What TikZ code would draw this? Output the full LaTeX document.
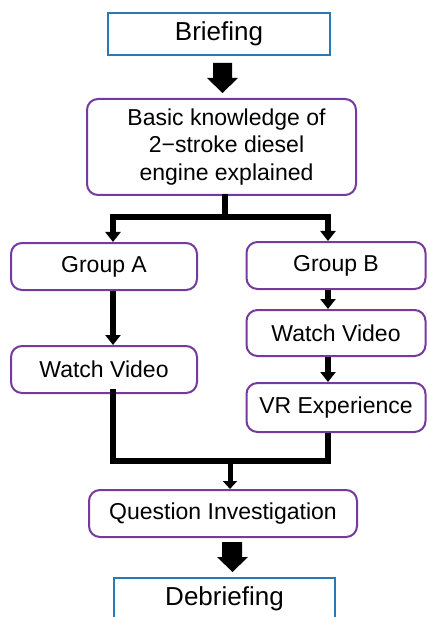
\documentclass[tikz,border=0pt]{standalone}
\usepackage{fontspec}
\setmainfont{Liberation Sans}
\usetikzlibrary{arrows.meta}
\definecolor{boxblue}{RGB}{40,122,182}
\definecolor{boxpurple}{RGB}{116,58,160}
\tikzset{
  bluebox/.style={draw=boxblue, line width=2pt, fill=white, inner sep=0pt, font=\fontsize{26}{30}\selectfont},
  purplebox/.style={draw=boxpurple, line width=2pt, rounded corners=11pt, fill=white, inner sep=0pt, font=\fontsize{23}{27.5}\selectfont, align=center},
  thickline/.style={line width=6.5pt, black, line join=miter},
  thickarrow/.style={line width=6pt, black, -{Triangle[width=15pt,length=10pt]}},
  bigarrow/.style={fill=black, draw=none}
}
\begin{document}
\begin{tikzpicture}[x=1pt,y=-1pt]
\useasboundingbox (0,0) rectangle (427,617);
% nodes
\node[bluebox, minimum width=222pt, minimum height=42pt] (brief) at (219,34) {Briefing};
\node[purplebox, minimum width=269pt, minimum height=96pt] (basic) at (221.5,147) {\hspace*{10pt}Basic knowledge of\\\hspace*{10pt}2\char"2212stroke diesel\\\hspace*{10pt}engine explained};
\node[purplebox, minimum width=186pt, minimum height=47pt] (ga) at (104,266.5) {Group A};
\node[purplebox, minimum width=179pt, minimum height=47pt] (gb) at (336,265.5) {Group B};
\node[purplebox, minimum width=186pt, minimum height=47pt] (wa) at (104,369.5) {Watch Video};
\node[purplebox, minimum width=179pt, minimum height=46pt] (wb) at (336,333) {Watch Video};
\node[purplebox, minimum width=179pt, minimum height=49pt] (vr) at (336,407.5) {VR Experience};
\node[purplebox, minimum width=268pt, minimum height=47pt] (qi) at (223,513.5) {Question Investigation};
\node[bluebox, minimum width=221pt, minimum height=42pt, anchor=north] (debrief) at (224.5,577) {Debriefing};
% big arrows
\path[bigarrow] (213,63) -- (232,63) -- (232,78) -- (238,78) -- (222.5,93) -- (207,78) -- (213,78) -- cycle;
\path[bigarrow] (222,542) -- (242,542) -- (242,557) -- (248,557) -- (232.5,572) -- (217,557) -- (222,557) -- cycle;
% split connectors
\coordinate (s0) at (225,194);
\coordinate (sj) at (225,217);
\coordinate (sl) at (113,217);
\coordinate (sr) at (328,217);
\draw[thickline] (s0) -- (sj);
\draw[thickline] ([xshift=-3.25pt]sl) -- ([xshift=3.25pt]sr);
\draw[thickarrow] ([yshift=-3pt]sl) -- (sl |- ga.north);
\draw[thickarrow] ([yshift=-3pt]sr) -- (sr |- gb.north);
% group chains
\draw[thickarrow] (sl |- ga.south) -- (sl |- wa.north);
\draw[thickarrow] (sr |- gb.south) -- (sr |- wb.north);
\draw[thickarrow] (sr |- wb.south) -- (sr |- vr.north);
% merge
\coordinate (ml) at (113,461);
\coordinate (mr) at (328,461);
\coordinate (mj) at (230,461);
\draw[thickline] ([yshift=5pt]sl |- wa.south) -- (ml) -- (mr) -- (sr |- vr.south);
\draw[line width=5pt, black, -{Triangle[width=14pt,length=8pt]}] ([yshift=-3pt]mj) -- (mj |- qi.north);
\end{tikzpicture}
\end{document}
